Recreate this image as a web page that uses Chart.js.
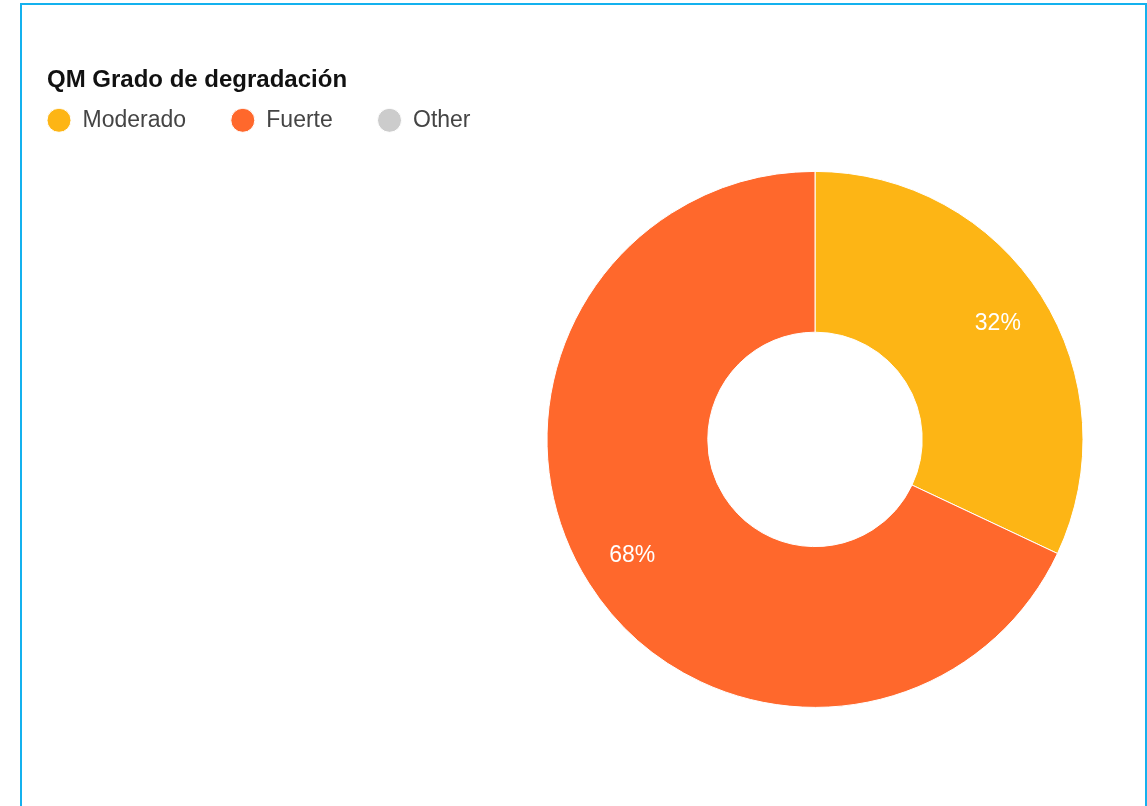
<!DOCTYPE html>
<html>
<head>
<meta charset="utf-8">
<script src="https://cdn.jsdelivr.net/npm/chart.js@4.4.1/dist/chart.umd.min.js"></script>
<style>
    html, body { margin: 0; padding: 0; background: #fff; overflow: hidden; width: 1147px; height: 806px; }
    #chart { position: absolute; left: 0; top: 0; }
    .frame { position: absolute; left: 20px; top: 3px; width: 1123px; height: 900px; border: 2px solid #14b1ee; pointer-events: none; }
</style>
</head>
<body>
<canvas id="chart" width="1630" height="806"></canvas>
<div class="frame"></div>
<script>
// data
const chartTitle = "QM Grado de degradación";
const labels = ["Moderado", "Fuerte", "Other"];
const values = [32, 68, 0];
const colors = ["#fdb515", "#ff682c", "#cccccc"];

Chart.defaults.font.family = '"Liberation Sans", Arial, sans-serif';

const total = values.reduce((a, b) => a + b, 0);
const gap = "\u00a0".repeat(7); // space after each legend entry

// percent labels inside the slices
const sliceLabels = {
    id: "sliceLabels",
    afterDatasetsDraw(chart) {
        const ctx = chart.ctx;
        const meta = chart.getDatasetMeta(0);
        ctx.save();
        ctx.font = '23px "Liberation Sans", Arial, sans-serif';
        ctx.fillStyle = "#ffffff";
        ctx.textAlign = "center";
        ctx.textBaseline = "middle";
        meta.data.forEach((arc, i) => {
            if (!values[i]) return;
            const p = arc.getProps(["x", "y", "startAngle", "endAngle", "innerRadius", "outerRadius"], true);
            const mid = (p.startAngle + p.endAngle) / 2;
            const r = p.innerRadius + (p.outerRadius - p.innerRadius) * 0.68;
            ctx.fillText(Math.round(values[i] / total * 100) + "%", p.x + Math.cos(mid) * r, p.y + Math.sin(mid) * r);
        });
        ctx.restore();
    }
};

new Chart(document.getElementById("chart"), {
    type: "doughnut",
    data: {
        labels: labels,
        datasets: [{
            data: values,
            backgroundColor: colors,
            borderColor: "#ffffff",
            borderWidth: 1
        }]
    },
    options: {
        responsive: false,
        animation: false,
        radius: 268,
        cutout: "40%",
        layout: { padding: { left: 47, right: 47, top: 0, bottom: 69 } },
        plugins: {
            title: {
                display: true,
                text: chartTitle,
                align: "start",
                color: "#111111",
                font: { size: 24, weight: "bold" },
                padding: { top: 66, bottom: 14 }
            },
            legend: {
                position: "top",
                align: "start",
                labels: {
                    usePointStyle: true,
                    pointStyle: "circle",
                    boxHeight: 17,
                    pointStyleWidth: 24,
                    padding: 0,
                    color: "#444444",
                    font: { size: 23 },
                    generateLabels: chart => Chart.overrides.doughnut.plugins.legend.labels.generateLabels(chart)
                        .map((l, i) => ({ ...l, text: l.text + (i < labels.length - 1 ? gap : "") }))
                }
            },
            tooltip: { enabled: false }
        }
    },
    plugins: [sliceLabels]
});
</script>
</body>
</html>
